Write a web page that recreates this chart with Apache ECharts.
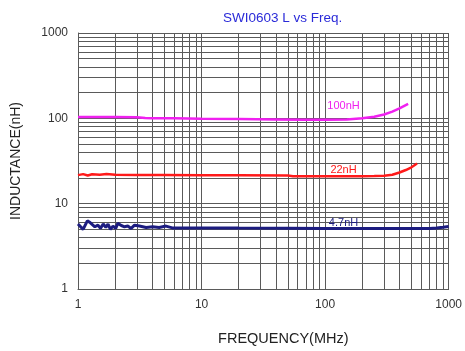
<!DOCTYPE html>
<html><head><meta charset="utf-8">
<script src="https://cdn.jsdelivr.net/npm/echarts@6/dist/echarts.min.js"></script>
<style>html,body{margin:0;padding:0;background:#fff}#c{width:465px;height:351px}</style>
</head><body><div id="c"></div>
<script>
const titleText = "SWI0603 L vs Freq.";
const xTicks = [1, 10, 100, 1000];
const yTicks = [1, 10, 100, 1000];

const freq100 = [1, 1.5, 2, 3, 3.5, 4, 6, 10, 20, 40, 70, 100, 150, 200, 250, 300, 350, 400, 470];
const val100  = [104, 104, 104, 103, 101, 100, 100, 99, 98, 97, 96, 96, 97, 100, 104.5, 111, 120, 131, 148];

const freq22 = [1, 1.1, 1.2, 1.3, 1.5, 1.7, 2, 3, 5, 10, 20, 50, 55, 100, 150, 200, 250, 300, 350, 400, 450, 500, 555];
const val22  = [21.6, 22.2, 21.4, 22.1, 21.8, 22.2, 21.8, 21.7, 21.7, 21.6, 21.5, 21.4, 21.0, 21.0, 21.0, 21.0, 21.1, 21.2, 21.8, 23.2, 24.8, 26.7, 29.5];

const freq47 = [1, 1.1, 1.19, 1.26, 1.37, 1.45, 1.52, 1.6, 1.68, 1.75, 1.83, 1.92, 2.02, 2.1, 2.24, 2.38, 2.53, 2.69, 2.87, 3.14, 3.56, 4.02, 4.54, 5.15, 5.8, 10, 20, 50, 100, 200, 500, 700, 800, 900, 1000];
const val47  = [5.77, 5.0, 6.3, 5.97, 5.36, 5.6, 5.13, 5.77, 5.27, 5.77, 5.0, 5.46, 5.13, 5.87, 5.55, 5.36, 5.46, 5.13, 5.6, 5.46, 5.27, 5.36, 5.27, 5.46, 5.2, 5.2, 5.17, 5.15, 5.13, 5.13, 5.13, 5.13, 5.2, 5.3, 5.4];

const seriesNames = ["100nH", "22nH", "4.7nH"];
const labelPos = [[141, 139], [141, 24.8], [141, 5.93]];

const minorVals = [];
[1, 10, 100].forEach(d => { for (let k = 1; k <= 9; k++) minorVals.push(k * d); });
minorVals.push(1000);

const zip = (a, b) => a.map((v, i) => [v, b[i]]);
const colors = ["#f020f0", "#ff1a1a", "#1c1c80"];
const widths = [2.5, 2.5, 3];
const datas = [zip(freq100, val100), zip(freq22, val22), zip(freq47, val47)];

const gridLineStyle = {color: "#5a5a5a", width: 1, type: "solid"};
const series = datas.map((d, i) => ({
  name: seriesNames[i], type: "line", data: d, showSymbol: false, smooth: false,
  lineStyle: {color: colors[i], width: widths[i]}, z: 5,
  markPoint: {
    symbol: "circle", symbolSize: 0, silent: true,
    label: {show: true, formatter: seriesNames[i], color: colors[i], fontSize: 11, fontFamily: "Liberation Sans, Arial", position: "inside"},
    data: [{coord: labelPos[i]}]
  }
}));
series.push({
  type: "line", data: [], silent: true, z: 1,
  markLine: {
    silent: true, symbol: ["none", "none"], animation: false,
    label: {show: false}, lineStyle: gridLineStyle,
    data: minorVals.map(v => ({xAxis: v})).concat(minorVals.map(v => ({yAxis: v})))
  }
});

const chart = echarts.init(document.getElementById("c"));
chart.setOption({
  animation: false,
  title: {text: titleText, left: 218, top: 6, textStyle: {color: "#2a2ad8", fontSize: 13.5, fontWeight: "normal", fontFamily: "Liberation Sans, Arial"}},
  grid: {left: 78, right: 13, top: 33, bottom: 62},
  xAxis: {
    type: "log", logBase: 10, min: xTicks[0], max: xTicks[xTicks.length - 1],
    name: "FREQUENCY(MHz)", nameLocation: "middle", nameGap: 42,
    nameTextStyle: {color: "#222", fontSize: 14.5, fontFamily: "Liberation Sans, Arial", padding: [0, 0, 0, 40]},
    axisLine: {show: true, lineStyle: {color: "#5a5a5a"}}, axisTick: {show: false},
    axisLabel: {color: "#333", fontSize: 12, fontFamily: "Liberation Sans, Arial", margin: 10, formatter: v => String(v)},
    splitLine: {show: false}
  },
  yAxis: {
    type: "log", logBase: 10, min: yTicks[0], max: yTicks[yTicks.length - 1],
    name: "INDUCTANCE(nH)", nameLocation: "middle", nameGap: 55,
    nameTextStyle: {color: "#222", fontSize: 14, fontFamily: "Liberation Sans, Arial"},
    axisLine: {show: true, lineStyle: {color: "#5a5a5a"}}, axisTick: {show: false},
    axisLabel: {color: "#333", fontSize: 12, fontFamily: "Liberation Sans, Arial", margin: 10, formatter: v => String(v)},
    splitLine: {show: false}
  },
  series: series
});
</script></body></html>
